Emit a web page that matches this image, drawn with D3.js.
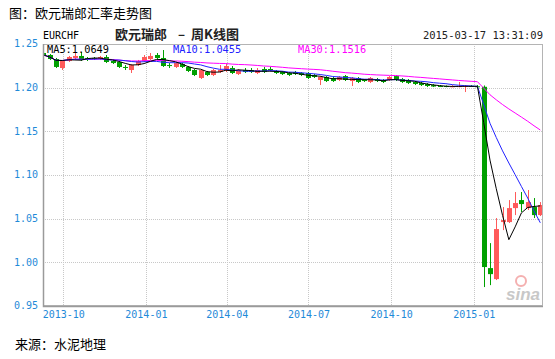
<!DOCTYPE html>
<html>
<head>
<meta charset="utf-8">
<script src="https://cdn.jsdelivr.net/npm/d3@7"></script>
<style>
body { margin: 0; background: #fff; }
svg { display: block; }
.mono { font-family: "DejaVu Sans Mono", monospace; }
.cn { font-family: "Noto Sans CJK SC", sans-serif; }
</style>
</head>
<body>
<div id="chart"></div>
<script>
// weekly candles, week start dates
var weeks = [
  "2013-09-09","2013-09-16","2013-09-23","2013-09-30","2013-10-07","2013-10-14","2013-10-21","2013-10-28",
  "2013-11-04","2013-11-11","2013-11-18","2013-11-25","2013-12-02","2013-12-09","2013-12-16","2013-12-23","2013-12-30",
  "2014-01-06","2014-01-13","2014-01-20","2014-01-27","2014-02-03","2014-02-10","2014-02-17","2014-02-24",
  "2014-03-03","2014-03-10","2014-03-17","2014-03-24","2014-03-31","2014-04-07","2014-04-14","2014-04-21","2014-04-28",
  "2014-05-05","2014-05-12","2014-05-19","2014-05-26","2014-06-02","2014-06-09","2014-06-16","2014-06-23","2014-06-30",
  "2014-07-07","2014-07-14","2014-07-21","2014-07-28","2014-08-04","2014-08-11","2014-08-18","2014-08-25",
  "2014-09-01","2014-09-08","2014-09-15","2014-09-22","2014-09-29","2014-10-06","2014-10-13","2014-10-20","2014-10-27",
  "2014-11-03","2014-11-10","2014-11-17","2014-11-24","2014-12-01","2014-12-08","2014-12-15","2014-12-22","2014-12-29",
  "2015-01-05","2015-01-12","2015-01-19","2015-01-26","2015-02-02","2015-02-09","2015-02-16","2015-02-23",
  "2015-03-02","2015-03-09","2015-03-16"
];
var opens = [
  1.2397,1.2374,1.2328,1.2225,1.2305,1.2340,1.2363,1.2340,1.2340,1.2335,1.2351,1.2305,1.2294,1.2237,1.2202,1.2259,1.2305,
  1.2328,1.2374,1.2340,1.2259,1.2237,1.2271,1.2237,1.2202,1.2111,1.2179,1.2145,1.2179,1.2191,1.2225,1.2156,1.2202,1.2202,
  1.2168,1.2214,1.2214,1.2191,1.2179,1.2168,1.2179,1.2168,1.2168,1.2145,1.2088,1.2122,1.2111,1.2088,1.2133,1.2076,
  1.2111,1.2088,1.2065,1.2099,1.2088,1.2088,1.2133,1.2099,1.2088,1.2065,1.2053,1.2042,1.2030,1.2019,1.2019,1.2010,
  1.2012,1.2010,1.2020,1.2016,1.2010,0.9934,0.9808,1.0461,1.0461,1.0621,1.0713,1.0621,1.0633,1.0541
];
var highs = [
  1.2420,1.2385,1.2340,1.2317,1.2363,1.2397,1.2408,1.2351,1.2351,1.2363,1.2374,1.2317,1.2305,1.2259,1.2271,1.2317,1.2374,
  1.2397,1.2397,1.2431,1.2282,1.2294,1.2282,1.2248,1.2214,1.2214,1.2191,1.2214,1.2259,1.2271,1.2248,1.2214,1.2225,1.2225,
  1.2225,1.2237,1.2237,1.2202,1.2191,1.2179,1.2191,1.2179,1.2179,1.2156,1.2133,1.2133,1.2122,1.2133,1.2145,1.2122,
  1.2122,1.2099,1.2122,1.2111,1.2099,1.2133,1.2145,1.2111,1.2099,1.2076,1.2065,1.2053,1.2042,1.2030,1.2025,1.2030,
  1.2065,1.2030,1.2030,1.2030,1.2025,1.0220,1.0507,1.0633,1.0713,1.0805,1.0805,1.0828,1.0736,1.0690
];
var lows = [
  1.2363,1.2317,1.2225,1.2202,1.2294,1.2328,1.2305,1.2305,1.2317,1.2317,1.2282,1.2271,1.2225,1.2202,1.2168,1.2248,1.2294,
  1.2317,1.2328,1.2237,1.2225,1.2225,1.2225,1.2179,1.2133,1.2099,1.2133,1.2133,1.2168,1.2179,1.2156,1.2145,1.2168,1.2168,
  1.2156,1.2168,1.2191,1.2156,1.2145,1.2133,1.2145,1.2133,1.2099,1.2111,1.2030,1.2065,1.2065,1.2076,1.2076,1.2019,
  1.2053,1.2065,1.2053,1.2065,1.2053,1.2076,1.2076,1.2053,1.2042,1.2030,1.2019,1.2007,1.2007,1.2007,1.2005,1.2005,
  1.2005,1.1950,1.2008,1.2005,0.9717,0.9739,0.9797,1.0369,1.0450,1.0541,1.0576,1.0599,1.0507,1.0530
];
var closes = [
  1.2374,1.2328,1.2237,1.2305,1.2351,1.2363,1.2317,1.2328,1.2335,1.2351,1.2294,1.2282,1.2237,1.2228,1.2259,1.2305,1.2351,
  1.2363,1.2340,1.2248,1.2248,1.2282,1.2237,1.2191,1.2145,1.2202,1.2145,1.2202,1.2202,1.2248,1.2168,1.2202,1.2179,1.2179,
  1.2202,1.2179,1.2202,1.2168,1.2156,1.2145,1.2156,1.2145,1.2111,1.2122,1.2122,1.2076,1.2076,1.2122,1.2088,1.2111,
  1.2065,1.2076,1.2111,1.2076,1.2065,1.2122,1.2088,1.2065,1.2053,1.2042,1.2030,1.2019,1.2013,1.2013,1.2010,1.2016,
  1.2018,1.2020,1.2012,1.2010,0.9946,0.9865,1.0381,1.0484,1.0621,1.0679,1.0667,1.0690,1.0541,1.0656
];
var yTicks = [0.95, 1.00, 1.05, 1.10, 1.15, 1.20, 1.25];
var xTicks = ["2013-10", "2014-01", "2014-04", "2014-07", "2014-10", "2015-01"];
var maPeriods = [5, 10, 30];
var maLegend = ["MA5:1.0649", "MA10:1.0455", "MA30:1.1516"];
var maColors = ["#000000", "#2222ff", "#ff00ff"];

var W = 555, H = 359;
var pL = 43, pR = 543, pT = 44, pB = 306;

var svg = d3.select('#chart').append('svg')
    .attr('width', W)
    .attr('height', H);

var parseDay = d3.timeParse("%Y-%m-%d");
var parseMonth = d3.timeParse("%Y-%m");

var data = weeks.map(function (w, i) {
    return { date: parseDay(w), o: opens[i], h: highs[i], l: lows[i], c: closes[i] };
});

var x = d3.scaleTime()
    .domain([new Date(2013, 8, 8, 12), new Date(2015, 2, 19)])
    .range([pL, pR]);

var y = d3.scaleLinear()
    .domain([0.95, 1.25])
    .range([pB, pT]);

// titles
svg.append('text').attr('class', 'cn')
    .attr('x', 9).attr('y', 18)
    .attr('font-size', 13).attr('fill', '#000')
    .text('图：欧元瑞郎汇率走势图');

svg.append('text').attr('class', 'mono')
    .attr('x', 43).attr('y', 39)
    .attr('font-size', 10).attr('fill', '#000')
    .text('EURCHF');

var sub = [['欧元瑞郎', 115], ['–', 178], ['周K线图', 191]];
svg.selectAll('.sub').data(sub).enter().append('text')
    .attr('class', 'cn')
    .attr('x', function (d) { return d[1]; }).attr('y', 39)
    .attr('font-size', 13).attr('font-weight', 600).attr('fill', '#222')
    .text(function (d) { return d[0]; });

svg.append('text').attr('class', 'mono')
    .attr('x', 543).attr('y', 39)
    .attr('text-anchor', 'end')
    .attr('font-size', 10.5).attr('fill', '#222')
    .text('2015-03-17 13:31:09');

// grid
var grid = svg.append('g');
grid.selectAll('.hg').data(yTicks.slice(1, -1)).enter().append('line')
    .attr('x1', pL).attr('x2', pR)
    .attr('y1', function (d) { return Math.round(y(d)) + 0.5; })
    .attr('y2', function (d) { return Math.round(y(d)) + 0.5; })
    .attr('stroke', '#c8c8c8').attr('stroke-dasharray', '1,1');
grid.selectAll('.vg').data(xTicks).enter().append('line')
    .attr('x1', function (d) { return Math.round(x(parseMonth(d))) + 0.5; })
    .attr('x2', function (d) { return Math.round(x(parseMonth(d))) + 0.5; })
    .attr('y1', pT).attr('y2', pB)
    .attr('stroke', '#c8c8c8').attr('stroke-dasharray', '1,1');

// sina mark
svg.append('circle').attr('cx', 521).attr('cy', 281).attr('r', 5)
    .attr('fill', 'none').attr('stroke', '#f4b0b0').attr('stroke-width', 2);
svg.append('text')
    .attr('x', 540).attr('y', 300).attr('text-anchor', 'end')
    .attr('font-family', 'Liberation Sans, sans-serif')
    .attr('font-style', 'italic').attr('font-weight', 'bold')
    .attr('font-size', 17).attr('fill', '#c8c8c8')
    .text('sina');

// clip
svg.append('clipPath').attr('id', 'plot')
    .append('rect').attr('x', pL).attr('y', pT)
    .attr('width', pR - pL).attr('height', pB - pT);

var plot = svg.append('g').attr('clip-path', 'url(#plot)');

var up = '#ff5a5a', down = '#00a000';
var candles = plot.selectAll('.candle').data(data).enter().append('g');
candles.append('line')
    .attr('x1', function (d) { return Math.round(x(d.date)) + 0.5; })
    .attr('x2', function (d) { return Math.round(x(d.date)) + 0.5; })
    .attr('y1', function (d) { return y(d.h); })
    .attr('y2', function (d) { return y(d.l); })
    .attr('stroke', function (d) { return d.c >= d.o ? up : down; });
candles.append('rect')
    .attr('x', function (d) { return Math.round(x(d.date)) - 2; })
    .attr('width', 5)
    .attr('y', function (d) { return y(Math.max(d.o, d.c)); })
    .attr('height', function (d) { return Math.max(1, Math.abs(y(d.o) - y(d.c))); })
    .attr('fill', function (d) { return d.c >= d.o ? up : down; });

// moving averages of closes
maPeriods.slice().reverse().forEach(function (n, k) {
    var idx = maPeriods.length - 1 - k;
    var ma = closes.map(function (c, i) {
        return d3.mean(closes.slice(Math.max(0, i - n + 1), i + 1));
    });
    var line = d3.line()
        .x(function (d, i) { return x(data[i].date); })
        .y(function (d) { return y(d); });
    plot.append('path').datum(ma)
        .attr('d', line)
        .attr('fill', 'none')
        .attr('stroke', maColors[idx])
        .attr('stroke-width', 1);
});

// border
svg.append('rect')
    .attr('x', pL + 0.5).attr('y', pT + 0.5)
    .attr('width', pR - pL - 1).attr('height', pB - pT - 1)
    .attr('fill', 'none').attr('stroke', '#b4b4b4');
svg.append('path')
    .attr('d', 'M' + (pL + 0.5) + ',' + pT + 'V' + (pB + 0.5) + 'H' + pR)
    .attr('fill', 'none').attr('stroke', '#9a9a9a').attr('stroke-width', 1.5);

// legend
var legX = [47, 173, 298];
svg.selectAll('.leg').data(maLegend).enter().append('text')
    .attr('class', 'mono')
    .attr('x', function (d, i) { return legX[i]; })
    .attr('y', 53)
    .attr('font-size', 10.3)
    .attr('fill', function (d, i) { return maColors[i]; })
    .text(function (d) { return d; });

// axes
var yAxis = svg.append('g')
    .attr('transform', 'translate(' + pL + ',0)')
    .call(d3.axisLeft(y).tickValues(yTicks).tickFormat(d3.format('.2f')).tickSize(0).tickPadding(5));
var xAxis = svg.append('g')
    .attr('transform', 'translate(0,' + pB + ')')
    .call(d3.axisBottom(x).tickValues(xTicks.map(parseMonth)).tickFormat(d3.timeFormat('%Y-%m')).tickSize(0).tickPadding(5));
[yAxis, xAxis].forEach(function (a) {
    a.select('.domain').remove();
    a.selectAll('text')
        .attr('class', 'mono')
        .attr('font-size', 10)
        .attr('fill', '#1f8ad8');
});
yAxis.selectAll('text').attr('dy', '0.28em');

svg.append('text').attr('class', 'cn')
    .attr('x', 15).attr('y', 349)
    .attr('font-size', 13).attr('fill', '#000')
    .text('来源：水泥地理');
</script>
</body>
</html>
